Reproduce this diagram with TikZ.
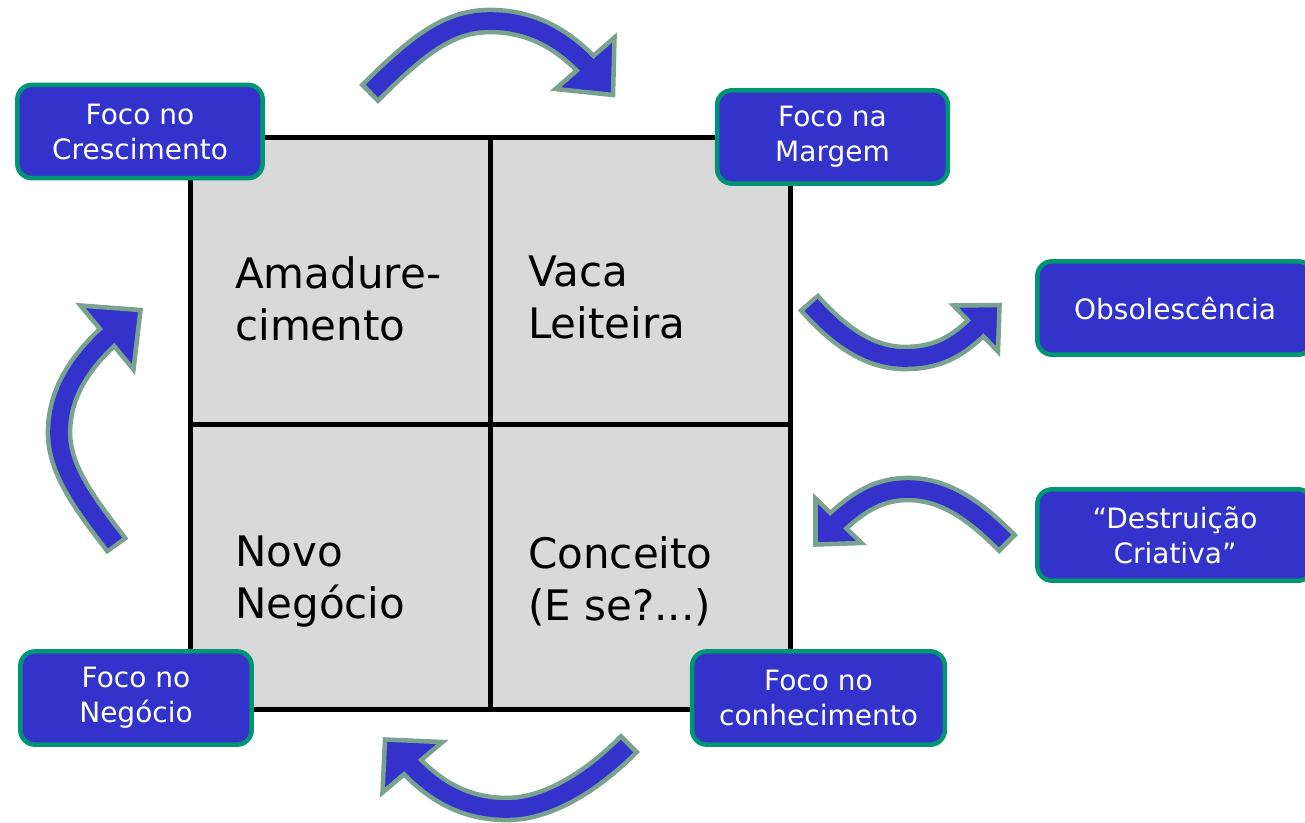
\documentclass[tikz,border=0pt]{standalone}
\usepackage{fontspec}
\setmainfont{DejaVu Sans}
\definecolor{focoblue}{HTML}{3333CC}
\definecolor{focogreen}{HTML}{009673}
\definecolor{arrowgreen}{HTML}{79A38F}
\definecolor{quadgray}{HTML}{D9D9D9}
\tikzset{
	quad/.style={fill=quadgray, draw=black, line width=3.75pt},
	quadline/.style={draw=black, line width=3.75pt},
	quadlabel/.style={anchor=north west, inner sep=0pt, align=left, font=\fontsize{31.5pt}{39pt}\selectfont},
	focobox/.style={draw=focogreen, fill=focoblue, line width=3.4pt, rounded corners=11pt, text=white, align=center, minimum height=70pt, inner sep=0pt, font=\fontsize{21pt}{26.25pt}\selectfont},
	arrborder/.style={draw=arrowgreen, line width=20pt},
	arrbody/.style={draw=focoblue, line width=13.2pt},
	arrhead/.style={draw=arrowgreen, fill=focoblue, line width=3.4pt}
}
% #1 tail end of border, #2 shaft, #3 shaft end inside head, #4 head
\def\bentarrow#1#2#3#4{\draw[arrborder] #1 -- #2; \filldraw[arrhead] #4 -- cycle; \draw[arrbody] #2 -- #3;}

\begin{document}
\begin{tikzpicture}[x=0.75pt, y=-0.75pt]
			%%%%% START %%%%%
			\path[use as bounding box, clip] (0, 0) rectangle (1305, 822);
			
			\filldraw[quad] (190, 137) rectangle (790, 709);
			\draw[quadline] (490, 137) -- (490, 709);
			\draw[quadline] (190, 424) -- (790, 424);
			
			\node[quadlabel] (amad) at (235, 256) {Amadure-\\cimento};
			\node[quadlabel] (vaca) at (528, 256) {Vaca\\Leiteira};
			\node[quadlabel] (novo) at (235, 536) {Novo\\Negócio};
			\node[quadlabel] (conc) at (528, 536) {Conceito\\(E se?...)};
			
			\node[focobox, minimum width=184pt] (cresc) at (140, 131.5) {Foco no\\Crescimento};
			\node[focobox, minimum width=173pt] (marg) at (832.5, 137) {Foco na\\Margem};
			\node[focobox, minimum width=206.5pt] (obso) at (1175, 308) {Obsolescência};
			\node[focobox, minimum width=206.5pt, minimum height=68.5pt] (destr) at (1175, 535) {“Destruição\\Criativa”};
			\node[focobox, minimum width=173.5pt] (negoc) at (136, 698) {Foco no\\Negócio};
			\node[focobox, minimum width=189.5pt] (conhec) at (818.5, 698) {Foco no\\conhecimento};
			
			% top
			\bentarrow{(368.5, 94.5)}{(372, 91) .. controls (420, 43) and (450, 21) .. (490, 21) .. controls (530, 21) and (560, 38) .. (585, 63)}{(589, 67)}{(614.5, 37.5) -- (613, 95) -- (555.5, 89)}
			% right, upper
			\bentarrow{(808, 301.5)}{(811, 305) .. controls (840, 337) and (870, 358) .. (905, 358) .. controls (935, 358) and (955, 348) .. (975.5, 328.5)}{(979.5, 324.5)}{(953.5, 305.5) -- (999.5, 305) -- (998, 351.5)}
			% right, lower
			\bentarrow{(1008.5, 544.5)}{(1005, 541) .. controls (975, 511) and (945, 489) .. (908, 489) .. controls (880, 489) and (860, 501) .. (838.5, 520.5)}{(835, 523.5)}{(815.5, 498.5) -- (815.5, 544.5) -- (861.5, 543)}
			% bottom
			\bentarrow{(630.5, 742.5)}{(627, 746) .. controls (595, 778) and (550, 809) .. (507, 809) .. controls (470, 809) and (440, 795) .. (412.5, 767)}{(409, 763.5)}{(385, 739.5) -- (442.5, 742) -- (382.5, 792.5)}
			% left
			\bentarrow{(117.5, 546.5)}{(115, 543) .. controls (90, 510) and (59, 472) .. (59, 433) .. controls (59, 395) and (78, 365) .. (107, 337.5)}{(110.5, 334)}{(80.5, 305.5) -- (140.5, 310) -- (133.5, 369.5)}
			%%%%% END %%%%%
\end{tikzpicture}
\end{document}
